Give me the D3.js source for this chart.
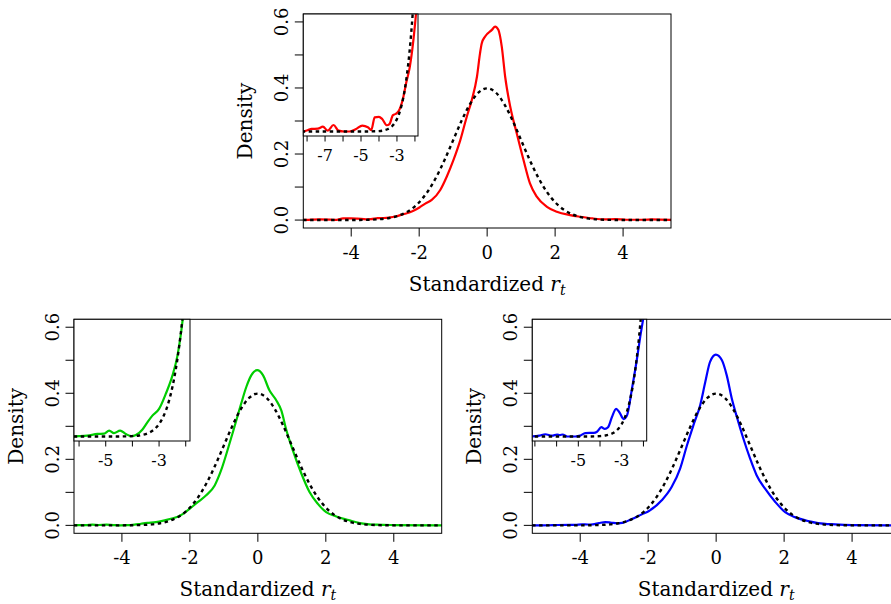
<!DOCTYPE html>
<html>
<head>
<meta charset="utf-8">
<script src="https://cdn.jsdelivr.net/npm/d3@7"></script>
<style>
  body { margin: 0; background: #fff; }
  svg { display: block; }
</style>
</head>
<body>
<svg id="chart" width="891" height="604"></svg>
<script>
// Kernel density of standardized returns, three samples
const redX   = [-8.2,-7.95,-7.75,-7.4,-7.12,-6.85,-6.53,-6.25,-5.95,-5.65,-5.27,-4.93,-4.62,-4.43,-4.24,-4.0,-3.82,-3.56,-3.42,-3.22,-3.07,-2.89,-2.67,-2.48,-2.29,-2.11,-1.98,-1.82,-1.63,-1.38,-1.19,-0.99,-0.79,-0.60,-0.45,-0.30,-0.21,-0.16,-0.06,0.14,0.235,0.33,0.43,0.53,0.68,0.87,1.07,1.26,1.46,1.76,2.05,2.44,2.74,3.1,3.5,3.75,4.1,4.6,4.85,5.5];
const redY   = [0,0.0005,0.0009,0.0010,0.0017,0.0003,0.0023,0.0003,0,0,0.0009,0.0021,0.0015,0.0005,0.0050,0.0052,0.0044,0.0022,0.0026,0.0058,0.0062,0.0074,0.0115,0.0174,0.0227,0.031,0.039,0.050,0.061,0.091,0.131,0.182,0.242,0.313,0.364,0.434,0.505,0.535,0.556,0.576,0.586,0.576,0.525,0.434,0.343,0.263,0.182,0.111,0.071,0.040,0.025,0.015,0.010,0.005,0.002,0.003,0.001,0.001,0.002,0];

const greenX = [-6.3,-6.0,-5.69,-5.31,-5.06,-4.87,-4.69,-4.46,-4.25,-4.04,-3.87,-3.63,-3.44,-3.25,-3.0,-2.75,-2.50,-2.31,-2.19,-2.01,-1.76,-1.52,-1.27,-1.08,-0.88,-0.69,-0.49,-0.34,-0.19,-0.02,0.15,0.34,0.54,0.69,0.84,1.03,1.28,1.52,1.76,2.01,2.31,2.70,3.0,3.5,4.0,5.5];
const greenY = [0,0.0001,0.0003,0.0009,0.0010,0.0021,0.0012,0.0021,0.0009,0.0001,0.0005,0.0024,0.0050,0.0074,0.0098,0.0151,0.0216,0.0287,0.0358,0.050,0.071,0.091,0.121,0.167,0.232,0.298,0.369,0.419,0.455,0.470,0.455,0.409,0.379,0.348,0.288,0.227,0.157,0.101,0.066,0.040,0.027,0.015,0.007,0.002,0.001,0];

const blueX  = [-7.2,-6.8,-6.52,-6.21,-5.98,-5.85,-5.72,-5.52,-5.14,-4.91,-4.68,-4.29,-4.14,-3.94,-3.78,-3.63,-3.45,-3.26,-3.11,-2.91,-2.76,-2.53,-2.30,-2.14,-1.99,-1.60,-1.31,-1.06,-0.86,-0.67,-0.47,-0.32,-0.18,-0.01,0.17,0.31,0.46,0.61,0.80,1.0,1.19,1.44,1.74,2.03,2.32,2.71,3.0,3.5,4.0,5.5];
const blueY  = [0,0.0003,0.0008,0.0003,0.0007,0.0005,0.0007,0,0,0.0003,0.0012,0.0013,0.0017,0.0033,0.0027,0.0033,0.0069,0.0098,0.0086,0.0062,0.0074,0.0169,0.0275,0.0358,0.043,0.076,0.116,0.172,0.242,0.303,0.364,0.434,0.495,0.517,0.500,0.455,0.384,0.328,0.263,0.202,0.152,0.111,0.071,0.040,0.025,0.013,0.007,0.003,0.001,0];

// Standard normal reference density
const normX = [-8.3,-7,-6,-5.5,-5,-4.5,-4,-3.75,-3.5,-3.375,-3.25,-3.125,-3,-2.875,-2.75,-2.625,-2.5,-2.375,-2.25,-2.125,-2,-1.75,-1.5,-1.25,-1,-0.75,-0.5,-0.25,0,0.25,0.5,0.75,1,1.25,1.5,1.75,2,2.25,2.5,2.75,3,3.25,3.5,3.75,4,4.5,5,5.5];
const normY = [0,0,0,0.0000001,0.0000015,0.000016,0.000134,0.000353,0.000873,0.001341,0.002029,0.003023,0.004432,0.006400,0.009094,0.01273,0.01753,0.02377,0.03174,0.04173,0.05399,0.08628,0.12952,0.18265,0.24197,0.30114,0.35207,0.38667,0.39894,0.38667,0.35207,0.30114,0.24197,0.18265,0.12952,0.08628,0.05399,0.03174,0.01753,0.009094,0.004432,0.002029,0.000873,0.000353,0.000134,0.000016,0.0000015,0.0000001];

// Axis ticks
const xTicks = [-4, -2, 0, 2, 4];
const yTicks = [0, 0.1, 0.2, 0.3, 0.4, 0.5, 0.6];
const yLabels = [0, 0.2, 0.4, 0.6];
const xDomain = [-5.41, 5.41];
const yDomain = [-0.024, 0.624];
const insetYDomain = [-0.0016, 0.0416];

const panels = [
  { id: "p1", left: 303.3, top: 14, color: "#ff0000", xs: redX, ys: redY,
    inset: { w: 114.7, h: 122, domain: [-8.21, -1.83], ticks: [-8,-7,-6,-5,-4,-3,-2], labels: [-7,-5,-3] } },
  { id: "p2", left: 74, top: 319.3, color: "#00cd00", xs: greenX, ys: greenY,
    inset: { w: 116, h: 121.7, domain: [-6.19, -1.84], ticks: [-6,-5,-4,-3,-2], labels: [-5,-3] } },
  { id: "p3", left: 532.3, top: 319.3, color: "#0000ff", xs: blueX, ys: blueY,
    inset: { w: 114.4, h: 121.7, domain: [-7.12, -1.85], ticks: [-7,-6,-5,-4,-3,-2], labels: [-5,-3] } }
];

const FONT = "'DejaVu Serif', 'Liberation Serif', 'Times New Roman', serif";
const W = 367.7, H = 214;
const svg = d3.select("#chart");
const defs = svg.append("defs");
const fmt = d3.format(".1f");

function pairs(xs, ys) { return xs.map((x, i) => [x, ys[i]]); }

function drawPanel(p) {
  const x = d3.scaleLinear().domain(xDomain).range([p.left, p.left + W]);
  const y = d3.scaleLinear().domain(yDomain).range([p.top + H, p.top]);
  const g = svg.append("g").attr("font-family", FONT);

  defs.append("clipPath").attr("id", p.id + "-clip")
    .append("rect").attr("x", p.left).attr("y", p.top).attr("width", W).attr("height", H);

  const line = d3.line().x(d => x(d[0])).y(d => y(d[1])).curve(d3.curveMonotoneX);
  const lines = g.append("g").attr("clip-path", `url(#${p.id}-clip)`);
  lines.append("path").attr("d", line(pairs(p.xs, p.ys)))
    .attr("fill", "none").attr("stroke", p.color).attr("stroke-width", 2.2).attr("stroke-linejoin", "round");
  lines.append("path").attr("d", line(pairs(normX, normY)))
    .attr("fill", "none").attr("stroke", "#000").attr("stroke-width", 2.4).attr("stroke-dasharray", "3.5,3.5");

  // Box
  g.append("rect").attr("x", p.left).attr("y", p.top).attr("width", W).attr("height", H)
    .attr("fill", "none").attr("stroke", "#000").attr("stroke-width", 1);

  // x axis
  const bottom = p.top + H;
  g.selectAll(null).data(xTicks).join("line")
    .attr("x1", d => x(d)).attr("x2", d => x(d)).attr("y1", bottom).attr("y2", bottom + 8.5)
    .attr("stroke", "#000");
  g.selectAll(null).data(xTicks).join("text")
    .attr("x", d => x(d)).attr("y", bottom + 31).attr("text-anchor", "middle")
    .attr("font-size", 18).text(d => String(d));

  // y axis
  g.selectAll(null).data(yTicks).join("line")
    .attr("x1", p.left - 8.5).attr("x2", p.left).attr("y1", d => y(d)).attr("y2", d => y(d))
    .attr("stroke", "#000");
  g.selectAll(null).data(yLabels).join("text")
    .attr("transform", d => `translate(${p.left - 15},${y(d)}) rotate(-90)`)
    .attr("text-anchor", "middle").attr("font-size", 18).text(d => fmt(d));

  // Axis titles
  const xt = g.append("text").attr("x", p.left + W / 2).attr("y", bottom + 63)
    .attr("text-anchor", "middle").attr("font-size", 20);
  xt.append("tspan").text("Standardized ");
  xt.append("tspan").attr("font-style", "italic").text("r");
  xt.append("tspan").attr("font-style", "italic").attr("font-size", 14).attr("dy", 4).text("t");
  g.append("text")
    .attr("transform", `translate(${p.left - 51},${p.top + H / 2}) rotate(-90)`)
    .attr("text-anchor", "middle").attr("font-size", 20).text("Density");

  // Inset: left tail detail
  const ins = p.inset;
  const ix = d3.scaleLinear().domain(ins.domain).range([p.left, p.left + ins.w]);
  const iy = d3.scaleLinear().domain(insetYDomain).range([p.top + ins.h, p.top]);
  const ig = svg.append("g").attr("font-family", FONT);
  defs.append("clipPath").attr("id", p.id + "-iclip")
    .append("rect").attr("x", p.left).attr("y", p.top).attr("width", ins.w).attr("height", ins.h);
  ig.append("rect").attr("x", p.left).attr("y", p.top).attr("width", ins.w).attr("height", ins.h)
    .attr("fill", "#fff");
  const iline = d3.line().x(d => ix(d[0])).y(d => iy(d[1])).curve(d3.curveMonotoneX);
  const il = ig.append("g").attr("clip-path", `url(#${p.id}-iclip)`);
  il.append("path").attr("d", iline(pairs(p.xs, p.ys)))
    .attr("fill", "none").attr("stroke", p.color).attr("stroke-width", 2.2).attr("stroke-linejoin", "round");
  il.append("path").attr("d", iline(pairs(normX, normY)))
    .attr("fill", "none").attr("stroke", "#000").attr("stroke-width", 2.4).attr("stroke-dasharray", "3.5,3.5");
  ig.append("rect").attr("x", p.left).attr("y", p.top).attr("width", ins.w).attr("height", ins.h)
    .attr("fill", "none").attr("stroke", "#000").attr("stroke-width", 1);
  const ib = p.top + ins.h;
  ig.selectAll(null).data(ins.ticks).join("line")
    .attr("x1", d => ix(d)).attr("x2", d => ix(d)).attr("y1", ib).attr("y2", ib + 5.5)
    .attr("stroke", "#000");
  ig.selectAll(null).data(ins.labels).join("text")
    .attr("x", d => ix(d)).attr("y", ib + 25).attr("text-anchor", "middle")
    .attr("font-size", 16).text(d => String(d));
}

panels.forEach(drawPanel);
</script>
</body>
</html>
